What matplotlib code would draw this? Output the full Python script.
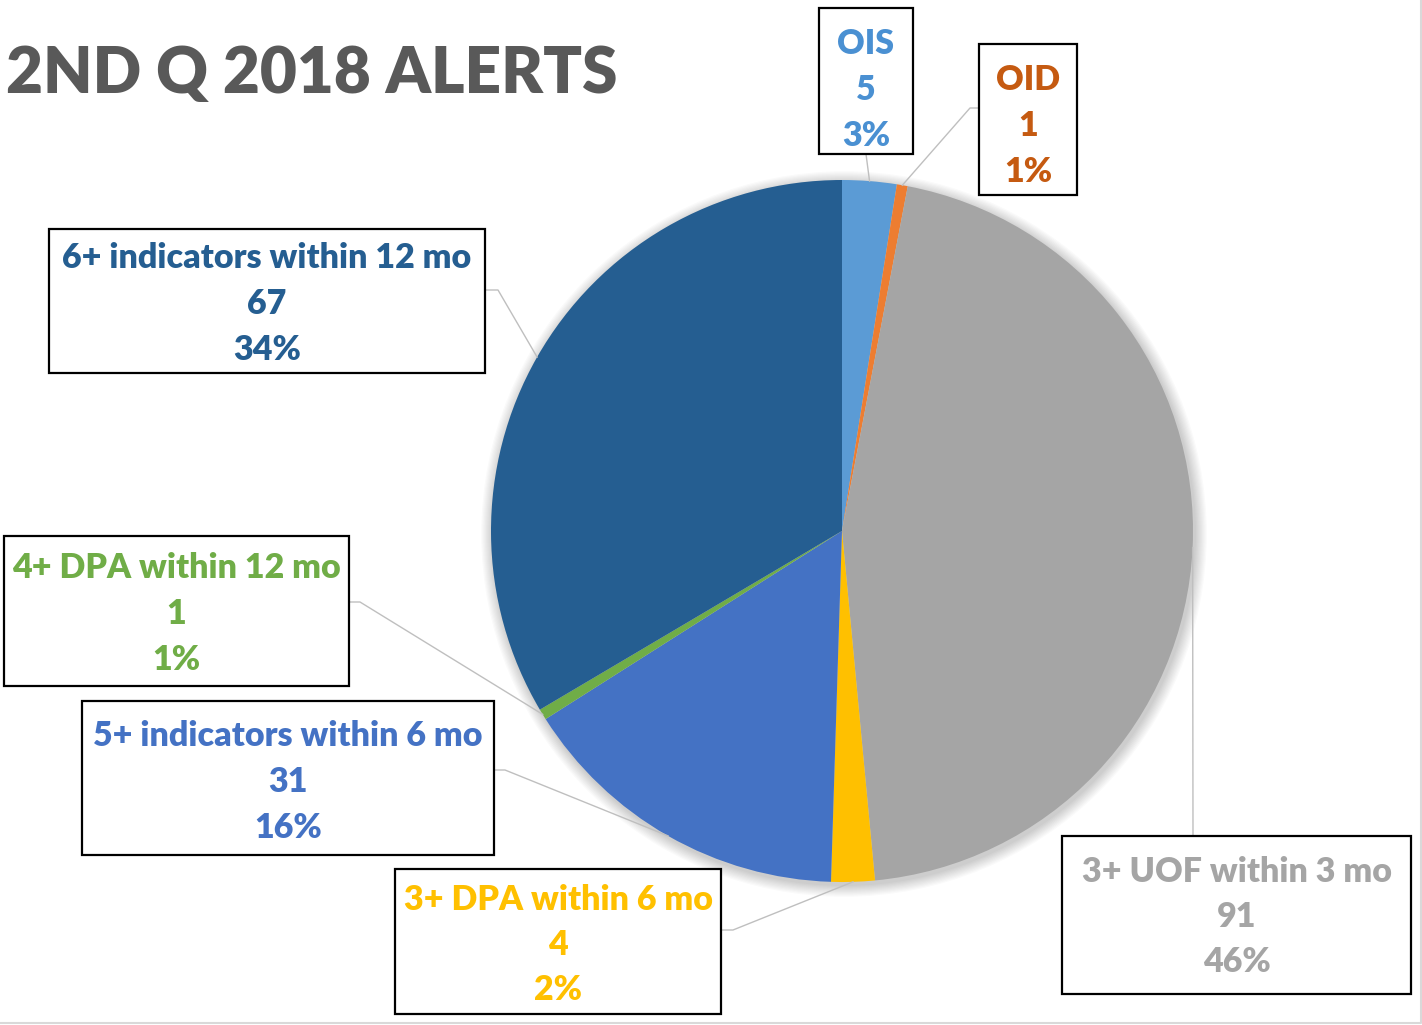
"""
Pie chart of 2nd quarter 2018 alerts, with boxed call-out labels
"""

import matplotlib
matplotlib.use('Agg')
from matplotlib import pyplot
from matplotlib.patches import Rectangle, Circle
import numpy as np

OUTPUT_FILENAME = 'out.png'
WIDTH_PX = 1422
HEIGHT_PX = 1025
IMAGE_DPI = 100
FONT = ['Lato', 'DejaVu Sans']
WEIGHT = 'heavy'

TITLE = '2ND Q 2018 ALERTS'

# slices, clockwise from 12 o'clock
categories = [
    'OIS',
    'OID',
    '3+ UOF within 3 mo',
    '3+ DPA within 6 mo',
    '5+ indicators within 6 mo',
    '4+ DPA within 12 mo',
    '6+ indicators within 12 mo',
]
counts = [5, 1, 91, 4, 31, 1, 67]
percent_labels = ['3%', '1%', '46%', '2%', '16%', '1%', '34%']

slice_colors = ['#5B9BD5', '#ED7D31', '#A5A5A5', '#FFC000', '#4472C4', '#70AD47', '#255E91']
text_colors = ['#4A90D2', '#C55A11', '#A5A5A5', '#FFC000', '#4472C4', '#70AD47', '#255E91']

# call-out boxes in pixels from top-left: (left, top, right, bottom)
boxes = [
    (819, 8, 913, 154),
    (979, 44, 1077, 195),
    (1062, 836, 1411, 994),
    (395, 869, 721, 1014),
    (82, 701, 494, 855),
    (4, 536, 349, 686),
    (49, 229, 485, 373),
]
# vertical centre of the middle text line in each box
text_mid = [88, 124, 915, 943, 780, 612, 302]
# where the leader leaves the box: (x, y, elbow_x or None)
anchors = [
    (866, 154, None),
    (979, 108, 970),
    (1193, 836, None),
    (721, 930, 733),
    (494, 770, 505),
    (349, 602, 360),
    (485, 290, 498),
]

PIE_CENTER = (842, 531)
PIE_RADIUS = 351
LINE_STEP = 45.5


def flip(y):
    return HEIGHT_PX - y


def main():
    fig = pyplot.figure(figsize=(WIDTH_PX / IMAGE_DPI, HEIGHT_PX / IMAGE_DPI), dpi=IMAGE_DPI)
    ax = fig.add_axes([0, 0, 1, 1])

    cx, cy = PIE_CENTER[0], flip(PIE_CENTER[1])

    # soft shadow under the pie
    for i in range(10):
        ax.add_patch(Circle((cx + 2, cy - 3), PIE_RADIUS + 1 + i * 1.2,
                            color='black', alpha=0.018, lw=0, zorder=0))

    wedges, _ = ax.pie(
        counts, colors=slice_colors, startangle=90, counterclock=False,
        center=(cx, cy), radius=PIE_RADIUS, wedgeprops=dict(linewidth=0),
    )

    for i, wedge in enumerate(wedges):
        mid = np.deg2rad((wedge.theta1 + wedge.theta2) / 2)
        end_x = wedge.center[0] + wedge.r * np.cos(mid)
        end_y = wedge.center[1] + wedge.r * np.sin(mid)
        ax_x, ax_y, elbow = anchors[i]
        xs, ys = [ax_x], [flip(ax_y)]
        if elbow is not None:
            xs.append(elbow)
            ys.append(flip(ax_y))
        xs.append(end_x)
        ys.append(end_y)
        ax.plot(xs, ys, color='#BFBFBF', lw=1.0, zorder=1)

    for i, (left, top, right, bottom) in enumerate(boxes):
        ax.add_patch(Rectangle((left, flip(bottom)), right - left, bottom - top,
                               facecolor='white', edgecolor='black', lw=1.6, zorder=3))
        xc = (left + right) / 2
        for j, line in enumerate([categories[i], str(counts[i]), percent_labels[i]]):
            baseline = text_mid[i] + (j - 1) * LINE_STEP + 12
            ax.text(xc, flip(baseline), line, ha='center', va='baseline',
                    fontsize=24.5, fontweight=WEIGHT, family=FONT,
                    color=text_colors[i], zorder=4)

    ax.text(6, flip(93), TITLE, ha='left', va='baseline', fontsize=46,
            fontweight=WEIGHT, family=FONT, color='#595959')

    # faint frame on the right and bottom edges
    ax.plot([1420.5, 1420.5, 0], [HEIGHT_PX, flip(1022.5), flip(1022.5)],
            color='#D9D9D9', lw=1.5)

    ax.set_xlim(0, WIDTH_PX)
    ax.set_ylim(0, HEIGHT_PX)
    ax.set_aspect('auto')
    ax.axis('off')

    fig.savefig(OUTPUT_FILENAME, dpi=IMAGE_DPI)


if __name__ == '__main__':
    main()
